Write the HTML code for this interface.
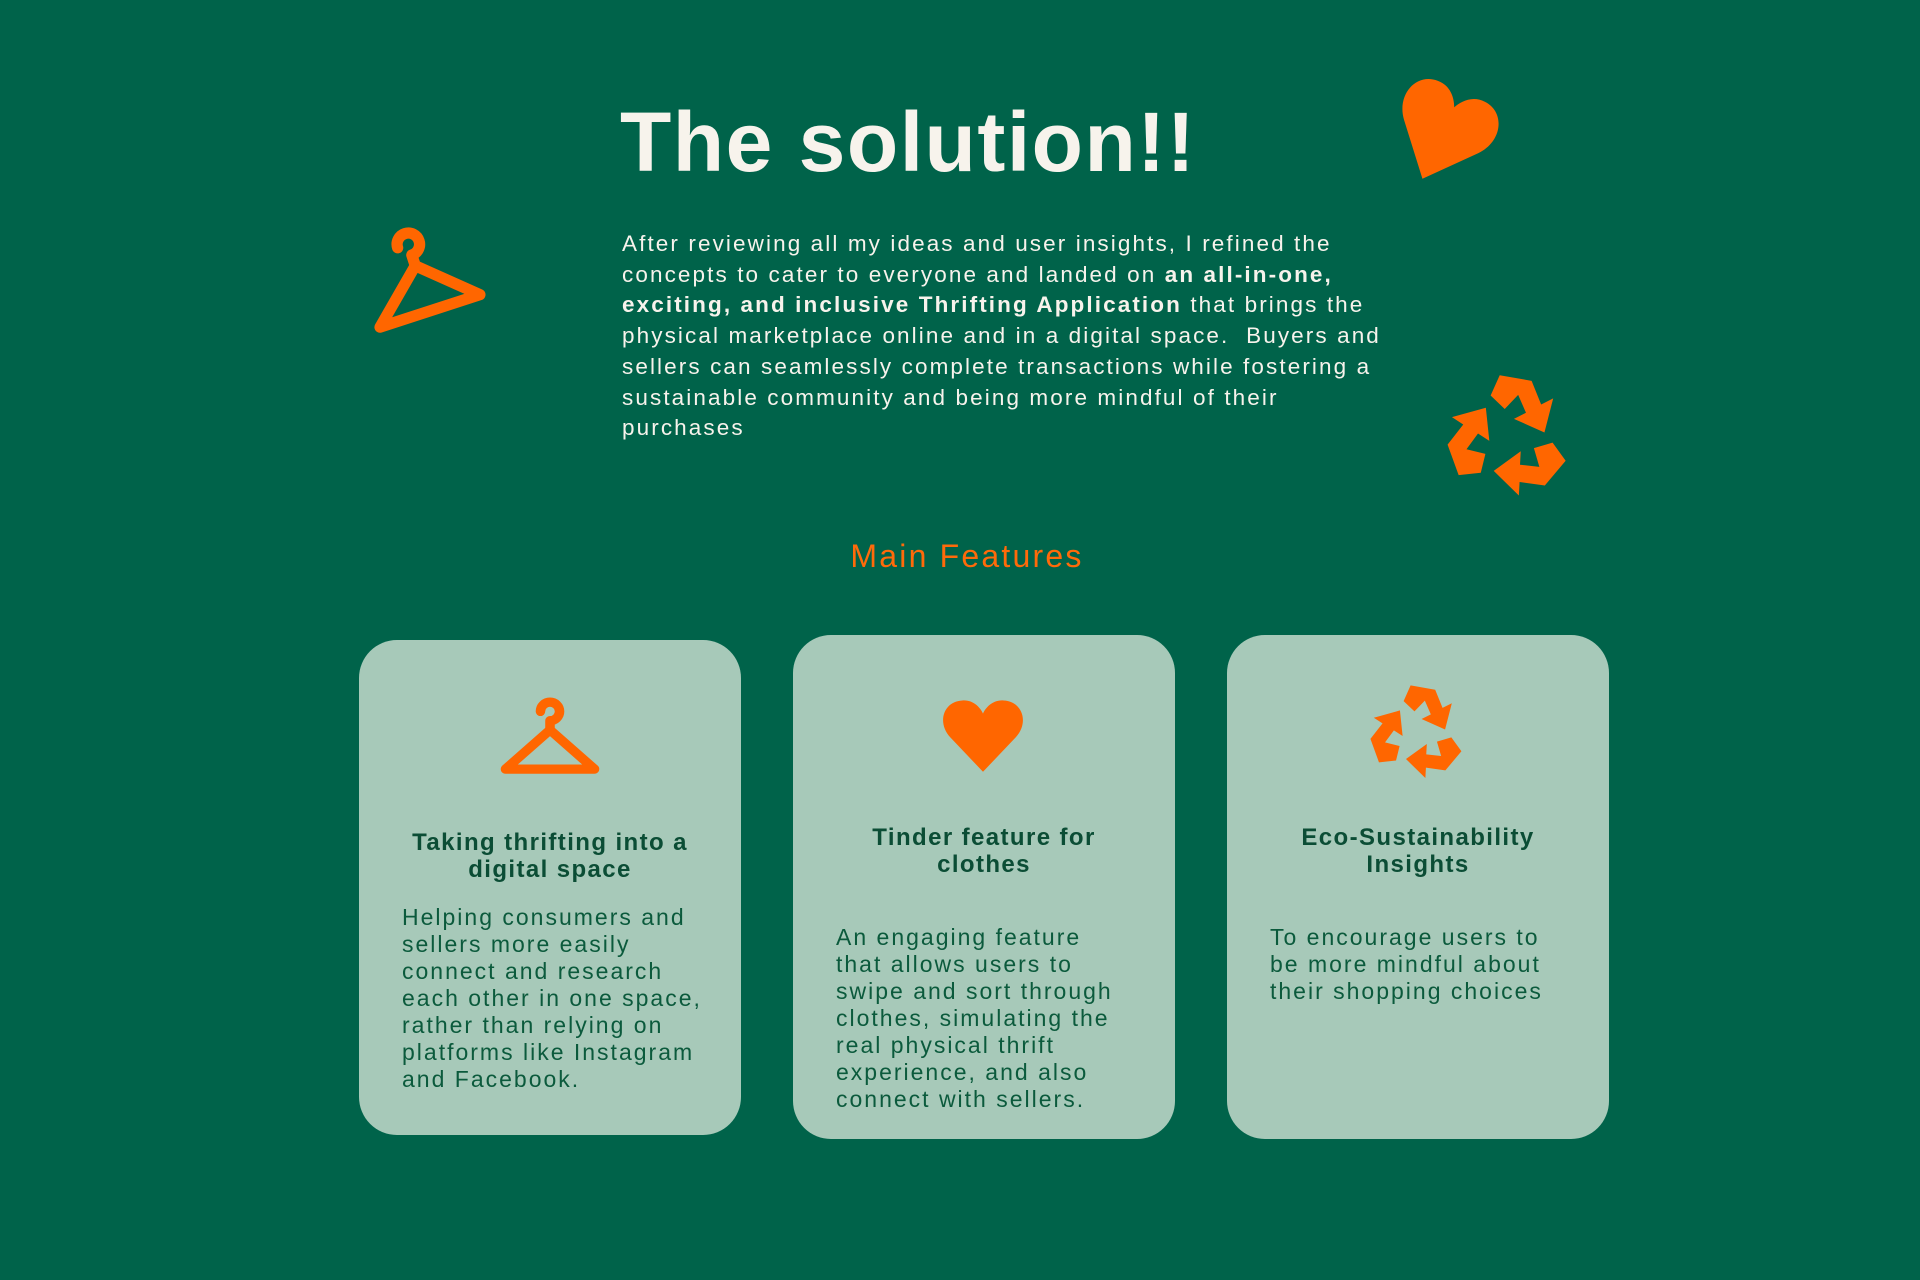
<!DOCTYPE html>
<html><head><meta charset="utf-8"><style>
*{margin:0;padding:0;box-sizing:border-box}
body{width:1920px;height:1280px;background:#00634a;font-family:"Liberation Sans",sans-serif;position:relative;overflow:hidden}
.abs{position:absolute}
h1{position:absolute;left:620px;top:94px;font-size:84px;font-weight:bold;color:#f7f3ec;letter-spacing:1.5px;white-space:nowrap}
.p{left:622px;top:229px;font-size:22.5px;line-height:30.7px;color:#f7f3ec;white-space:nowrap;letter-spacing:2.1px}
.mf{left:0;width:1934px;text-align:center;top:538px;font-size:32px;color:#ff6a0a;letter-spacing:2.2px}
.card{position:absolute;background:#a7c9b9;border-radius:38px}
.ct{position:absolute;width:100%;text-align:center;font-weight:bold;font-size:24px;line-height:27px;color:#0b4d35;letter-spacing:1.4px}
.cb{position:absolute;font-size:23px;line-height:27px;color:#0b5a3c;white-space:nowrap;letter-spacing:2px}
</style></head><body>
<h1>The solution!!</h1>
<div class="abs p">After reviewing all my ideas and user insights, I refined the<br>concepts to cater to everyone and landed on <b>an all-in-one,</b><br><b>exciting, and inclusive Thrifting Application</b> that brings the<br>physical marketplace online and in a digital space.&nbsp; Buyers and<br>sellers can seamlessly complete transactions while fostering a<br>sustainable community and being more mindful of their<br>purchases</div>
<div class="abs mf">Main Features</div>

<svg class="abs" style="left:0;top:0" width="1920" height="1280">
<defs>
<path id="heart" d="M50 90 L12 48 C-4 30 4 4 26 3 C39 2 47 12 50 19 C53 12 61 2 74 3 C96 4 104 30 88 48 Z" fill="#ff6600"/>
<g id="hanger" fill="none" stroke="#ff6600" stroke-width="9" stroke-linejoin="round" stroke-linecap="round">
<path d="M41 14 A9 9 0 1 1 50 23 V32"/>
<path d="M50 32 L8 70 H92 Z"/>
</g>
<g id="rec" fill="#ff6600">
<g id="seg"><path d="M-14 -44 L10 -44 L20 -28 L28 -34 L26 -8 L2 -14 L10 -20 L2 -32 L-6 -20 L-18 -28 Z"/></g>
<use href="#seg" transform="rotate(120)"/>
<use href="#seg" transform="rotate(240)"/>
</g>
</defs>
<g transform="translate(1388,84) rotate(24 54 52) scale(1.07 1.1)"><use href="#heart"/></g>
<g transform="translate(356,226) rotate(-18 60 50) scale(1.25)"><use href="#hanger"/></g>
<g transform="translate(1508,437) rotate(10) scale(1.35)"><use href="#rec"/></g>
</svg>

<div class="card" style="left:359px;top:640px;width:382px;height:495px"></div>
<div class="card" style="left:793px;top:635px;width:382px;height:504px"></div>
<div class="card" style="left:1227px;top:635px;width:382px;height:504px"></div>

<svg class="abs" style="left:0;top:0" width="1920" height="1280">
<g transform="translate(497,697) scale(1.06 1.03)"><use href="#hanger"/></g>
<g transform="translate(940,698) scale(0.86 0.82)"><use href="#heart"/></g>
<g transform="translate(1417,733) rotate(10) scale(1.04)"><use href="#rec"/></g>
</svg>

<div class="card" style="left:359px;top:640px;width:382px;height:495px;background:none">
<div class="ct" style="top:189px">Taking thrifting into a<br>digital space</div>
<div class="cb" style="left:43px;top:264px">Helping consumers and<br>sellers more easily<br>connect and research<br>each other in one space,<br>rather than relying on<br>platforms like Instagram<br>and Facebook.</div>
</div>
<div class="card" style="left:793px;top:635px;width:382px;height:504px;background:none">
<div class="ct" style="top:189px">Tinder feature for<br>clothes</div>
<div class="cb" style="left:43px;top:289px">An engaging feature<br>that allows users to<br>swipe and sort through<br>clothes, simulating the<br>real physical thrift<br>experience, and also<br>connect with sellers.</div>
</div>
<div class="card" style="left:1227px;top:635px;width:382px;height:504px;background:none">
<div class="ct" style="top:189px">Eco-Sustainability<br>Insights</div>
<div class="cb" style="left:43px;top:289px">To encourage users to<br>be more mindful about<br>their shopping choices</div>
</div>
</body></html>
